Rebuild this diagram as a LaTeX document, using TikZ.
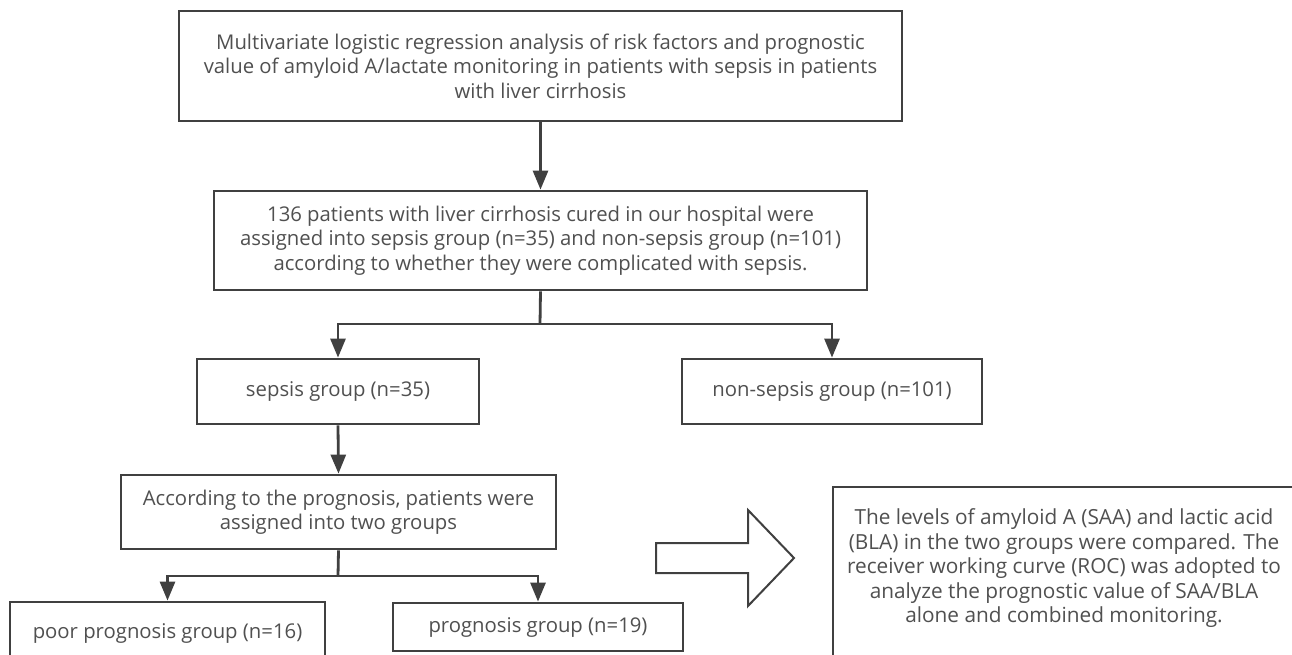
\documentclass[tikz,border=0pt]{standalone}
\usepackage{fontspec}
\setmainfont{Open Sans}
\usetikzlibrary{arrows.meta}
\definecolor{ln}{HTML}{404040}
\definecolor{tx}{HTML}{505050}
\tikzset{
  box/.style={draw=ln, line width=2.8pt, fill=white, rectangle, inner sep=0pt,
    align=center, text=tx, font=\fontsize{20.3}{24.5}\selectfont},
  conn/.style={draw=ln, line width=2.8pt},
  arr/.style={conn, -{Triangle[length=19pt,width=15pt]}},
}
\begin{document}
\begin{tikzpicture}[x=1pt,y=-1pt]
\useasboundingbox (0,0) rectangle (1292,654);
\fill[white] (0,0) rectangle (1292,654);
\clip (0,0) rectangle (1292,654);

\node[box, minimum width=723pt, minimum height=110pt] (top) at (540.5,66)
  {Multivariate logistic regression analysis of risk factors and prognostic\\
   value of amyloid A/lactate monitoring in patients with sepsis in patients\\
   with liver cirrhosis};
\node[box, minimum width=653pt, minimum height=99pt] (pat) at (540.5,240.5)
  {136 patients with liver cirrhosis cured in our hospital were\\
   assigned into sepsis group (n=35) and non-sepsis group (n=101)\\
   according to whether they were complicated with sepsis.};
\node[box, minimum width=282pt, minimum height=65pt] (sep) at (338,391.5)
  {sepsis group (n=35)};
\node[box, minimum width=300pt, minimum height=65pt] (non) at (832,391.5)
  {non-sepsis group (n=101)};
\node[box, minimum width=435pt, minimum height=74pt] (acc) at (338.5,512)
  {According to the prognosis, patients were\\ assigned into two groups};
\node[box, minimum width=315pt, minimum height=62pt] (poor) at (167.5,633)
  {poor prognosis group (n=16)};
\node[box, minimum width=290pt, minimum height=48pt] (prog) at (538,627)
  {\raisebox{-3pt}{prognosis group (n=19)}};
\node[box, minimum width=462pt, minimum height=200pt, font=\fontsize{20.8}{24.5}\selectfont] (lev) at (1064,587)
  {\raisebox{13pt}[0pt][0pt]{\begin{tabular}{@{}c@{}}The levels of amyloid A (SAA) and lactic acid\\
   (BLA) in the two groups were compared. The\\
   receiver working curve (ROC) was adopted to\\
   analyze the prognostic value of SAA/BLA\\
   alone and combined monitoring.\end{tabular}}};

% connectors
\draw[arr] (top.south) -- (pat.north);
\coordinate (j1) at (540,324);
\draw[conn] (pat.south) -- (j1);
\draw[arr] (j1) -| (sep.north);
\draw[arr] (j1) -| (non.north);
\draw[arr] (sep.south) -- (acc.north);
\coordinate (j2) at (338,576);
\draw[conn] (acc.south) -- (j2);
\draw[arr] (j2) -| (poor.north);
\draw[arr] (j2) -| (prog.north);

% hollow block arrow
\draw[ln, line width=2pt, line join=miter, fill=white]
  (656,543) -- (748,543) -- (748,510) -- (794,558) -- (748,606) -- (748,573) -- (656,573) -- cycle;
\end{tikzpicture}
\end{document}
